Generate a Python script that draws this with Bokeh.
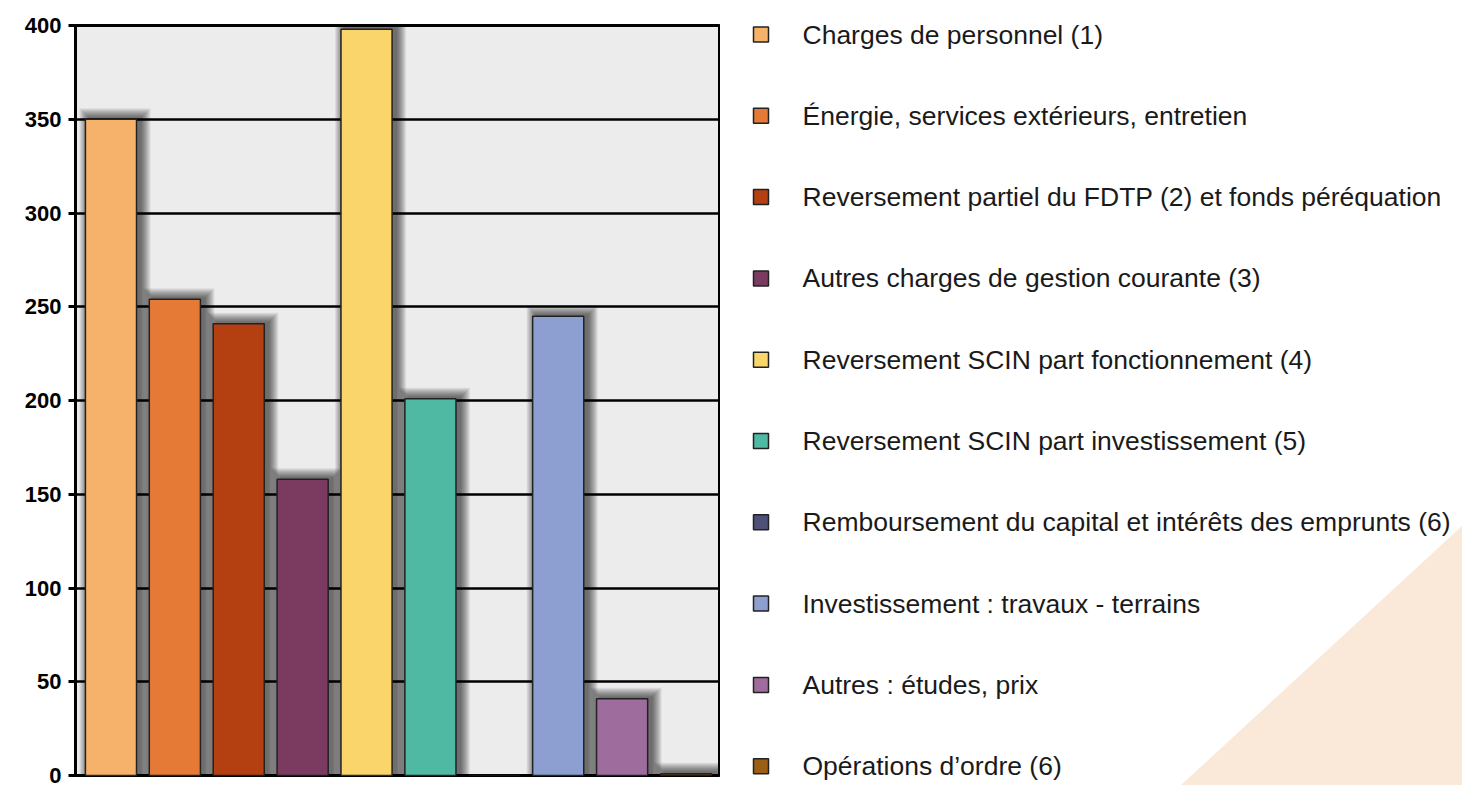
from bokeh.plotting import figure
from bokeh.models import Range1d, FixedTicker, ColumnDataSource
from bokeh.layouts import row
from bokeh.core.properties import value
from bokeh.embed import file_html
from bokeh.resources import INLINE

# ---------------- data ----------------
categories = [
    "Charges de personnel (1)",
    "Énergie, services extérieurs, entretien",
    "Reversement partiel du FDTP (2) et fonds péréquation",
    "Autres charges de gestion courante (3)",
    "Reversement SCIN part fonctionnement (4)",
    "Reversement SCIN part investissement (5)",
    "Remboursement du capital et intérêts des emprunts (6)",
    "Investissement : travaux - terrains",
    "Autres : études, prix",
    "Opérations d’ordre (6)",
]
values = [350, 254, 241, 158, 398, 201, 0, 245, 41, 1]
colors = ["#F6B16A", "#E47A35", "#B43F10", "#7B3A60", "#F9D56B",
          "#50B9A3", "#4E5078", "#8C9FD0", "#9E6C9D", "#9A5F14"]
y_ticks = [0, 50, 100, 150, 200, 250, 300, 350, 400]

# ---------------- layout constants ----------------
W, H = 1462, 785
LEFT, TOP = 75, 25
FRAME_W, FRAME_H = 645, 750
BOTTOM = H - TOP - FRAME_H
X0, X1 = -0.555, 9.54
PXX = FRAME_W / (X1 - X0)
PXY = FRAME_H / 400.0
BAR_W = 0.80

xs = list(range(len(values)))

p = figure(width=LEFT + FRAME_W, height=H, x_range=Range1d(X0, X1), y_range=Range1d(0, 400),
           min_border_left=LEFT, min_border_right=0, min_border_top=TOP, min_border_bottom=BOTTOM,
           toolbar_location=None, output_backend="svg")
p.background_fill_color = "#ECECEC"
p.border_fill_color = "white"
p.outline_line_color = "black"
p.outline_line_width = 3

p.xaxis.visible = False
p.xgrid.visible = False
p.yaxis.ticker = FixedTicker(ticks=y_ticks)
p.yaxis.axis_line_color = None
p.yaxis.major_tick_line_width = 3
p.yaxis.major_tick_line_color = "black"
p.yaxis.major_tick_out = 7
p.yaxis.major_tick_in = 0
p.yaxis.minor_tick_line_color = None
p.yaxis.major_label_standoff = 7
p.yaxis.major_label_text_font = "Liberation Sans"
p.yaxis.major_label_text_font_style = "bold"
p.yaxis.major_label_text_font_size = "22px"
p.yaxis.major_label_text_color = "black"
p.ygrid.grid_line_color = "black"
p.ygrid.grid_line_width = 2.5

# drop shadows (blurred, approximated by stacked translucent quads)
sx = [x for x, v in zip(xs, values) if v > 0]
sv = [v for v in values if v > 0]
for k in range(1, 11):
    p.quad(left=[x - BAR_W / 2 + (4 - k) / PXX for x in sx],
           right=[x + BAR_W / 2 + (4 + k) / PXX for x in sx],
           top=[v + (k + 1) / PXY for v in sv],
           bottom=[0] * len(sv),
           fill_color="black", fill_alpha=0.072, line_color=None)

src = ColumnDataSource(dict(x=xs, top=values, color=colors, cat=categories))
p.vbar(x="x", top="top", width=BAR_W, bottom=0, fill_color="color",
       line_color="#222222", line_width=1.5, source=src)

# ---------------- legend panel ----------------
LW = W - (LEFT + FRAME_W)
q = figure(width=LW, height=H, x_range=Range1d(0, LW),
           min_border=0, toolbar_location=None, output_backend="svg")
if "frame_align" in q.properties():
    q.frame_align = False
    p.frame_align = False
    q.y_range = Range1d(H, 0)
else:
    q.y_range = Range1d(TOP + FRAME_H, TOP)
q.axis.visible = False
q.grid.visible = False
q.outline_line_color = None
q.background_fill_alpha = 0
q.border_fill_color = "white"

# decorative background triangle
q.patch(x=[460, 742, 742], y=[785, 525, 785], fill_color="#FAE9D9", line_color=None)

ys = [34 + i * 81.3 for i in range(len(categories))]
lsrc = ColumnDataSource(dict(y=ys, color=colors, cat=categories))
q.rect(x=40.5, y="y", width=15, height=15, fill_color="color",
       line_color="#222222", line_width=1.5, source=lsrc)
q.text(x=82, y="y", text="cat", text_font=value("Liberation Sans"), text_font_size="26.5px",
       text_baseline="middle", text_color="#1a1a1a", source=lsrc)

layout = row(p, q)
open("out.html", "w").write(file_html(layout, INLINE))
